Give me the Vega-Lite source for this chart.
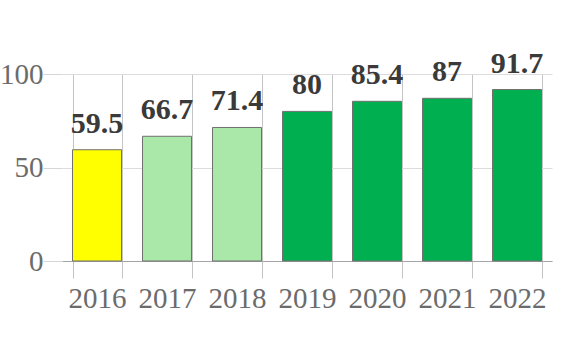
{
  "$schema": "https://vega.github.io/schema/vega-lite/v6.json",
  "width": 490,
  "height": 187,
  "autosize": "none",
  "padding": {"left": 62, "top": 74, "right": 33, "bottom": 94},
  "background": "white",
  "config": {"view": {"stroke": null}, "font": "'Liberation Serif', 'Times New Roman', serif"},
  "data": {
    "values": [
      {"year": "2016", "value": 59.5, "level": "low"},
      {"year": "2017", "value": 66.7, "level": "mid"},
      {"year": "2018", "value": 71.4, "level": "mid"},
      {"year": "2019", "value": 80, "level": "high"},
      {"year": "2020", "value": 85.4, "level": "high"},
      {"year": "2021", "value": 87, "level": "high"},
      {"year": "2022", "value": 91.7, "level": "high"}
    ]
  },
  "encoding": {
    "x": {
      "field": "year",
      "type": "ordinal",
      "scale": {"paddingInner": 0.3, "paddingOuter": 0.15},
      "axis": {
        "title": null,
        "labelAngle": 0,
        "labelFontSize": 29,
        "labelColor": "#6b6b6b",
        "labelFont": "'Liberation Serif', 'Times New Roman', serif",
        "labelPadding": 6,
        "tickBand": "extent",
        "tickSize": 17,
        "tickColor": "#c4c4c4",
        "grid": true,
        "gridColor": "#c4c4c4",
        "domainColor": "#a6a6a6",
        "encode": {
          "ticks": {"update": {"strokeOpacity": {"signal": "datum.extra ? 0 : 1"}}},
          "grid": {"update": {"strokeOpacity": {"signal": "datum.extra ? 0 : 1"}}}
        }
      }
    },
    "y": {
      "field": "value",
      "type": "quantitative",
      "scale": {"domain": [0, 100]},
      "axis": {
        "title": null,
        "values": [0, 50, 100],
        "labelFontSize": 29,
        "labelColor": "#6b6b6b",
        "labelFont": "'Liberation Serif', 'Times New Roman', serif",
        "labelPadding": 0,
        "tickSize": 19,
        "tickColor": "#d6d6d6",
        "gridColor": "#dcdcdc",
        "domain": false
      }
    }
  },
  "layer": [
    {
      "mark": {"type": "bar", "stroke": "#707070", "strokeWidth": 1},
      "encoding": {
        "color": {
          "field": "level",
          "type": "nominal",
          "scale": {"domain": ["low", "mid", "high"], "range": ["#ffff00", "#a9e8a9", "#00b050"]},
          "legend": null
        }
      }
    },
    {
      "mark": {"type": "text", "baseline": "alphabetic", "dy": -17, "fontSize": 30, "fontWeight": "bold", "color": "#3a3a3a", "font": "'Liberation Serif', 'Times New Roman', serif"},
      "encoding": {"text": {"field": "value", "type": "quantitative"}}
    }
  ]
}
